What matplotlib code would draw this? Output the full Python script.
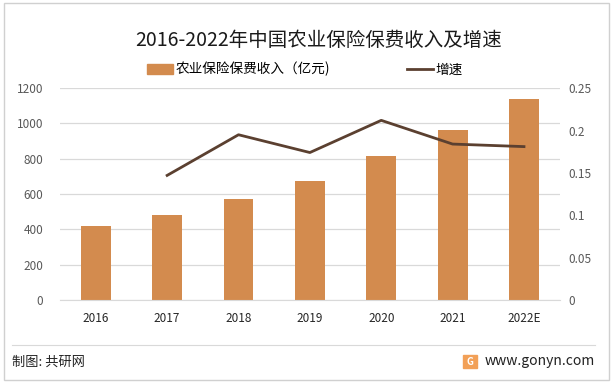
import matplotlib.pyplot as plt
from matplotlib.patches import Rectangle
from matplotlib.lines import Line2D

plt.rcParams['font.family'] = ['Noto Sans CJK SC', 'DejaVu Sans']

years = ["2016", "2017", "2018", "2019", "2020", "2021", "2022E"]
income = [417.7, 479.1, 572.7, 672.5, 815.0, 965.2, 1140.0]
growth_years = ["2017", "2018", "2019", "2020", "2021", "2022E"]
growth = [0.147, 0.195, 0.174, 0.212, 0.184, 0.181]

bar_color = "#D38B4E"
line_color = "#5B4030"

fig = plt.figure(figsize=(6.13, 3.85), dpi=100)
ax = fig.add_axes([0.098, 0.221, 0.815, 0.55])
ax2 = ax.twinx()

x = list(range(len(years)))
ax.bar(x, income, width=0.42, color=bar_color, zorder=2)
gx = [years.index(y) for y in growth_years]
ax2.plot(gx, growth, color=line_color, lw=2, zorder=3)

ax.set_xlim(-0.5, len(years) - 0.5)
ax.set_ylim(0, 1200)
ax.set_yticks(range(0, 1201, 200))
ax2.set_ylim(0, 0.25)
ax2.set_yticks([0, 0.05, 0.1, 0.15, 0.2, 0.25])
ax2.set_yticklabels(["0", "0.05", "0.1", "0.15", "0.2", "0.25"])
ax.set_xticks(x)
ax.set_xticklabels(years)

ax.grid(axis="y", color="#D9D9D9", lw=0.9, zorder=0)
for a in (ax, ax2):
    for s in a.spines.values():
        s.set_visible(False)
    a.tick_params(length=0, labelsize=8.5, colors="#595959")
ax.spines["bottom"].set_visible(True)
ax.spines["bottom"].set_color("#D9D9D9")
ax.tick_params(axis="x", labelcolor="#262626", pad=9)
ax.tick_params(axis="y", pad=12)
ax2.tick_params(axis="y", pad=6)

# title and legend
fig.text(0.519, 0.895, "2016-2022年中国农业保险保费收入及增速", ha="center",
         va="center", fontsize=14, color="#1a1a1a")

handles = [Rectangle((0, 0), 1, 1, color=bar_color),
           Line2D([0], [0], color=line_color, lw=2)]
fig.legend(handles, ["农业保险保费收入（亿元)", "增速"], loc="center",
           bbox_to_anchor=(0.4975, 0.82), ncol=2, frameon=False, fontsize=9.8,
           handlelength=1.85, handletextpad=0.2, columnspacing=5.7)

# footer
fig.add_artist(Line2D([0.02, 0.971], [0.104, 0.104], color="#D9D9D9", lw=0.8))
fig.add_artist(Rectangle((0.006, 0.013), 0.988, 0.979, fill=False,
                         edgecolor="#D0D0D0", lw=1, transform=fig.transFigure))
fig.text(0.02, 0.06, "制图: 共研网", fontsize=9.5, va="center", color="#222222")
fig.text(0.971, 0.062, "www.gonyn.com", fontsize=10, va="center", ha="right",
         color="#222222")
fig.add_artist(Rectangle((0.755, 0.044), 0.023, 0.034, color="#F2A057",
                         transform=fig.transFigure))
fig.text(0.7665, 0.061, "G", fontsize=7, fontweight="bold", color="white",
         ha="center", va="center")

fig.savefig("out.png", dpi=100)
